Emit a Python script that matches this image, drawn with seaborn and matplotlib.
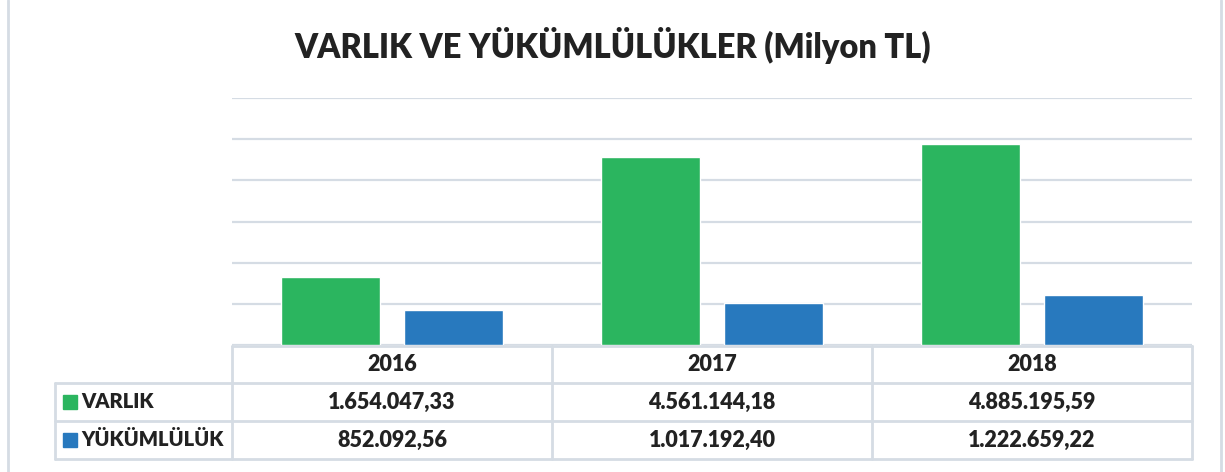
import numpy as np
import pandas as pd
import matplotlib.pyplot as plt
import seaborn as sns
from matplotlib.lines import Line2D
from matplotlib.patches import Rectangle

years = ['2016', '2017', '2018']
series = ['VARLIK', 'YÜKÜMLÜLÜK']
varlik = [1654047.33, 4561144.18, 4885195.59]
yukumluluk = [852092.56, 1017192.40, 1222659.22]
colors = ['#2BB55F', '#2879BE']

df = pd.DataFrame({'Yil': years * 2,
                   'Seri': [series[0]] * 3 + [series[1]] * 3,
                   'Deger': varlik + yukumluluk})

def tr_format(v):
    s = f'{v:,.2f}'
    return s.replace(',', 'X').replace('.', ',').replace('X', '.')

sns.set_style('white')
plt.rcParams['font.family'] = ['Lato', 'DejaVu Sans']

W, H = 1225, 472
fig = plt.figure(figsize=(W / 100, H / 100), dpi=100)

# px -> figure coords
fx = lambda x: x / W
fy = lambda y: 1 - y / H

x0, x1, ytop, ybot = 232, 1192, 98, 345
ax = fig.add_axes([fx(x0), fy(ybot), fx(x1) - fx(x0), fy(ytop) - fy(ybot)])
sns.barplot(data=df, x='Yil', y='Deger', hue='Seri', palette=colors,
            width=0.766, gap=0.19, ax=ax, legend=False, saturation=1)
ax.set_ylim(0, 6000000)
ax.set_xlim(-0.5, 2.5)
ax.set_yticks(np.arange(0, 6000001, 1000000))
ax.yaxis.grid(True, color='#D5DCE4', linewidth=1.6)
ax.set_axisbelow(True)
ax.set_xticks([])
ax.set_yticklabels([])
ax.tick_params(left=False, bottom=False)
ax.set_xlabel('')
ax.set_ylabel('')
for s in ax.spines.values():
    s.set_visible(False)

fig.text(0.5, fy(46), 'VARLIK VE YÜKÜMLÜLÜKLER (Milyon TL)', ha='center', va='center',
         fontsize=23.5, fontweight='heavy', color='#222222')

# outer border
lc = '#D5DCE4'
for xx in (8, 1221):
    fig.add_artist(Line2D([fx(xx), fx(xx)], [0, 1], color=lc, linewidth=2))

# data table
rows_y = [346, 383, 421, 459]
cols_x = [x0, 552, 872, x1]
lab_x = 55
def hline(y, xa, xb):
    fig.add_artist(Line2D([fx(xa), fx(xb)], [fy(y), fy(y)], color=lc, linewidth=2))
def vline(x, ya, yb):
    fig.add_artist(Line2D([fx(x), fx(x)], [fy(ya), fy(yb)], color=lc, linewidth=2))

hline(rows_y[0], x0, x1)
for y in rows_y[1:]:
    hline(y, lab_x, x1)
for x in cols_x:
    vline(x, rows_y[0], rows_y[3])
vline(lab_x, rows_y[1], rows_y[3])

tkw = dict(ha='center', va='center', fontsize=15.5, fontweight='heavy', color='#222222')
for i, yr in enumerate(years):
    cx = (cols_x[i] + cols_x[i + 1]) / 2
    fig.text(fx(cx), fy((rows_y[0] + rows_y[1]) / 2), yr, **tkw)
    fig.text(fx(cx), fy((rows_y[1] + rows_y[2]) / 2), tr_format(varlik[i]), **tkw)
    fig.text(fx(cx), fy((rows_y[2] + rows_y[3]) / 2), tr_format(yukumluluk[i]), **tkw)

for j, (name, c) in enumerate(zip(series, colors)):
    cy = (rows_y[j + 1] + rows_y[j + 2]) / 2
    fig.add_artist(Rectangle((fx(63), fy(cy + 7)), fx(14), 14 / H, color=c))
    fig.text(fx(81), fy(cy), name, ha='left', va='center', fontsize=14.5,
             fontweight='heavy', color='#222222')

fig.savefig('out.png', dpi=100)
